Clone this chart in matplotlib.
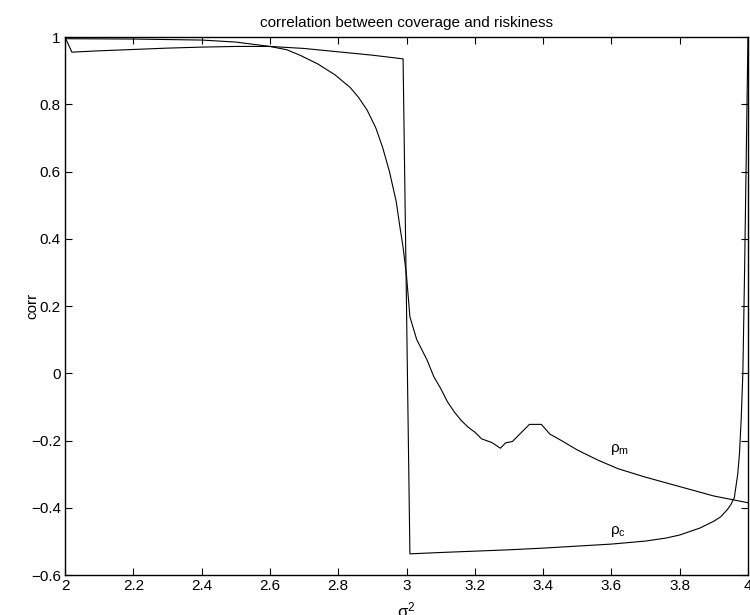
import matplotlib
matplotlib.use('Agg')
import matplotlib.pyplot as plt
from matplotlib.ticker import FuncFormatter

# rho_c: coverage correlation
x_c = [2.0, 2.02, 2.1, 2.2, 2.3, 2.4, 2.5, 2.6, 2.7, 2.8, 2.9, 2.99,
       3.01, 3.1, 3.2, 3.3, 3.4, 3.5, 3.6, 3.7, 3.76, 3.8, 3.86, 3.9,
       3.92, 3.94, 3.95, 3.96, 3.97, 3.975, 3.98, 3.985, 3.99, 4.0]
rho_c = [1.0, 0.955, 0.959, 0.963, 0.967, 0.970, 0.972, 0.972, 0.966, 0.956, 0.946, 0.935,
         -0.537, -0.533, -0.529, -0.525, -0.520, -0.514, -0.508, -0.499, -0.490, -0.481, -0.460, -0.440,
         -0.427, -0.405, -0.390, -0.370, -0.300, -0.240, -0.140, 0.0, 0.30, 1.0]

# rho_m
x_m = [2.0, 2.2, 2.4, 2.5, 2.6, 2.65, 2.69, 2.74, 2.79, 2.835, 2.86, 2.885, 2.91, 2.93,
       2.95, 2.97, 2.98, 2.99, 3.0, 3.01, 3.03, 3.06, 3.08, 3.1, 3.12, 3.14, 3.16, 3.18,
       3.2, 3.22, 3.25, 3.275, 3.29, 3.31, 3.36, 3.395, 3.42, 3.45, 3.5, 3.56, 3.62,
       3.7, 3.8, 3.9, 4.0]
rho_m = [0.995, 0.994, 0.991, 0.985, 0.972, 0.962, 0.945, 0.920, 0.888, 0.850, 0.820, 0.782, 0.730, 0.672,
         0.600, 0.510, 0.440, 0.375, 0.290, 0.168, 0.100, 0.040, -0.010, -0.045, -0.085, -0.115, -0.140, -0.160,
         -0.175, -0.195, -0.206, -0.223, -0.207, -0.203, -0.152, -0.152, -0.181, -0.198, -0.228, -0.258, -0.284,
         -0.309, -0.337, -0.365, -0.385]

plt.rcParams['font.family'] = ['Liberation Sans', 'DejaVu Sans']
plt.rcParams['mathtext.fontset'] = 'custom'
plt.rcParams['mathtext.rm'] = 'Liberation Sans'
plt.rcParams['mathtext.it'] = 'Liberation Sans'

fig = plt.figure(figsize=(7.5, 6.15), dpi=100)
ax = fig.add_axes([0.0867, 0.065, 0.9106, 0.8748])

ax.plot(x_c, rho_c, color='black', linewidth=0.8)
ax.plot(x_m, rho_m, color='black', linewidth=0.8)

ax.text(3.596, -0.228, r'$\mathregular{\rho_m}$', fontsize=11, va='center', ha='left')
ax.text(3.596, -0.470, r'$\mathregular{\rho_c}$', fontsize=11, va='center', ha='left')

ax.set_xlim(2, 4)
ax.set_ylim(-0.6, 1)
ax.set_xticks([2 + 0.2 * i for i in range(11)])
ax.set_yticks([-0.6 + 0.2 * i for i in range(9)])

fmt = FuncFormatter(lambda v, p: ('%g' % round(v, 2)).replace('-', '\u2212'))
ax.xaxis.set_major_formatter(fmt)
ax.yaxis.set_major_formatter(fmt)

ax.tick_params(direction='in', length=5, width=0.8, labelsize=11,
               top=True, right=True, pad=3)
for s in ax.spines.values():
    s.set_linewidth(1.0)

ax.set_title('correlation between coverage and riskiness', fontsize=11, pad=7)
ax.set_xlabel(r'$\sigma^2$', fontsize=12, labelpad=5)
ax.set_ylabel('corr', fontsize=11)
ax.yaxis.set_label_coords(-0.037, 0.5)

fig.savefig('out.png', dpi=100)
